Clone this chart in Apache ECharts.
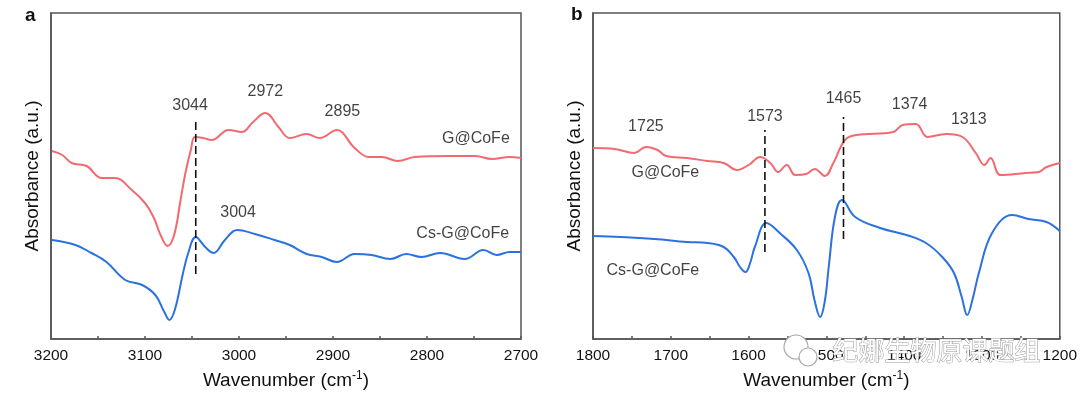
<!DOCTYPE html>
<html><head><meta charset="utf-8">
<script src="https://cdn.jsdelivr.net/npm/echarts@6/dist/echarts.min.js"></script>
<style>html,body{margin:0;padding:0;background:#fff}#c{width:1080px;height:397px}</style>
</head><body><div id="c"></div>
<script>
// ---- Panel a (3200-2700 cm-1) ----
const aWave = [3199,3188,3178,3162,3146,3132,3114,3100,3091,3083,3076,3069,3062,3057,3051,3047,3038,3029,3011,2997,2985,2972,2958,2946,2928,2914,2896,2877,2862,2848,2831,2813,2777,2749,2731,2712,2700];
const aRed  = [188,184,176,173,161,161,149,136,122,103,93,104,140,166,190,202,201,199,209,207,217,226,212,201,205,201,209,191,182,182,178,182,183,183,180,182,181];
const aBlueWave = [3199,3174,3157,3141,3121,3103,3089,3080,3074,3068,3060,3054,3046,3036,3027,3015,3002,2983,2962,2946,2928,2912,2896,2877,2859,2839,2822,2806,2786,2760,2740,2726,2712,2700];
const aBlue = [99,94,86,77,59,54,44,28,19,30,64,86,102,92,86,99,109,105,99,94,85,82,77,85,84,80,85,82,86,80,89,84,87,87];
const aDashX = [3046], aDashLow = [65], aDashHigh = [220];
const aLabelText = ['3044','2972','2895','3004','G@CoFe','Cs-G@CoFe'];
const aLabelX = [3052,2972,2890,3001,2748,2762];
const aLabelY = [233,247,227,126,200,105];

// ---- Panel b (1800-1200 cm-1) ----
const bRedWave = [1800,1772,1747,1732,1717,1706,1679,1653,1632,1615,1600,1585,1572,1562,1551,1540,1526,1515,1502,1491,1476,1461,1414,1402,1385,1370,1346,1325,1308,1297,1289,1276,1244,1227,1217,1200];
const bRed = [191,190,186,192,189,183,181,178,176,169,174,182,176,167,174,164,165,170,163,176,199,204,207,214,215,202,205,202,186,174,181,164,166,167,172,176];
const bBlueWave = [1800,1764,1721,1679,1653,1632,1619,1611,1604,1598,1592,1577,1560,1538,1523,1515,1508,1502,1497,1489,1480,1463,1431,1397,1372,1351,1336,1326,1319,1312,1304,1287,1261,1240,1217,1200];
const bBlue = [103,102,100,97,96,92,82,72,67,76,92,116,106,89,66,38,22,38,72,122,139,122,111,104,96,82,66,42,24,40,66,106,124,120,117,108];
const bDashX = [1579,1478], bDashLow = [87,100], bDashHigh = [209,222];
const bLabelText = ['1725','1573','1465','1374','1313','G@CoFe','Cs-G@CoFe'];
const bLabelX = [1732,1579,1478,1393,1317,1707,1723];
const bLabelY = [212,222,240,234,219,166,68];

const RED = '#F26A70', BLUE = '#2B72DE', AX = '#555', TXT = '#111';
const FONT = 'Liberation Sans';
const zip = (xs, ys) => xs.map((x, i) => [x, ys[i]]);

function xAxis(gi, min, max) {
  return {
    type: 'value', gridIndex: gi, min: min, max: max, interval: 50, inverse: true,
    name: 'Wavenumber (cm{sup|-1})', nameLocation: 'middle', nameGap: 31,
    nameTextStyle: { fontSize: 19, color: TXT, fontFamily: FONT,
      rich: { sup: { fontSize: 12, color: TXT, fontFamily: FONT, padding: [0, 0, 9, 0] } } },
    axisLine: { show: true, lineStyle: { color: AX, width: 1.5 } },
    axisTick: { show: true, inside: true, length: 3, lineStyle: { color: AX, width: 1.5 } },
    axisLabel: { margin: 9, fontSize: 15.5, color: TXT, fontFamily: FONT,
      formatter: v => (v % 100 === 0 ? String(v) : '') },
    splitLine: { show: false }
  };
}
function yAxis(gi) {
  return {
    type: 'value', gridIndex: gi, min: 0, max: 326,
    name: 'Absorbance (a.u.)', nameLocation: 'middle', nameGap: 9,
    nameTextStyle: { fontSize: 19, color: TXT, fontFamily: FONT },
    axisLine: { show: true, lineStyle: { color: AX, width: 1.5 } },
    axisTick: { show: false }, axisLabel: { show: false }, splitLine: { show: false }
  };
}
function curve(gi, data, color) {
  return { type: 'line', xAxisIndex: gi, yAxisIndex: gi, data: data, smooth: 0.4,
    showSymbol: false, symbol: 'none',
    lineStyle: { color: color, width: 2 }, z: 3 };
}
function dashes(gi, xs, lo, hi) {
  return xs.map((x, i) => ({ type: 'line', xAxisIndex: gi, yAxisIndex: gi,
    data: [[x, lo[i]], [x, hi[i]]], symbol: 'none',
    lineStyle: { color: '#111', width: 1.6, type: [8, 4] }, z: 4 }));
}
function labels(gi, texts, xs, ys) {
  return { type: 'scatter', xAxisIndex: gi, yAxisIndex: gi, symbolSize: 0, z: 5,
    data: texts.map((t, i) => ({ name: t, value: [xs[i], ys[i]] })),
    label: { show: true, position: 'inside', formatter: '{b}', fontSize: 16, color: TXT, fontFamily: FONT } };
}

const chart = echarts.init(document.getElementById('c'), null, { renderer: 'canvas' });
chart.setOption({
  animation: false,
  backgroundColor: '#fff',
  grid: [
    { left: 51, top: 13, width: 470, height: 326, show: true, borderColor: AX, borderWidth: 1.5, backgroundColor: 'transparent' },
    { left: 593, top: 13, width: 470, height: 326, show: true, borderColor: AX, borderWidth: 1.5, backgroundColor: 'transparent' }
  ],
  xAxis: [xAxis(0, 2700, 3200), xAxis(1, 1200, 1800)],
  yAxis: [yAxis(0), yAxis(1)],
  series: [
    curve(0, zip(aWave, aRed), RED),
    curve(0, zip(aBlueWave, aBlue), BLUE),
    ...dashes(0, aDashX, aDashLow, aDashHigh),
    labels(0, aLabelText, aLabelX, aLabelY),
    curve(1, zip(bRedWave, bRed), RED),
    curve(1, zip(bBlueWave, bBlue), BLUE),
    ...dashes(1, bDashX, bDashLow, bDashHigh),
    labels(1, bLabelText, bLabelX, bLabelY)
  ],
  graphic: [
    { type: 'text', left: 25, top: 6, style: { text: 'a', fontSize: 19, fontWeight: 'bold', fill: '#111', fontFamily: FONT } },
    { type: 'text', left: 571, top: 5, style: { text: 'b', fontSize: 19, fontWeight: 'bold', fill: '#111', fontFamily: FONT } },
    { type: 'circle', shape: { cx: 796, cy: 347, r: 12 }, style: { fill: '#fff', stroke: '#aaa', lineWidth: 1.2 }, z: 100 },
    { type: 'circle', shape: { cx: 808, cy: 357, r: 9 }, style: { fill: '#fff', stroke: '#aaa', lineWidth: 1.2 }, z: 101 },
    { type: 'text', left: 832, top: 337, z: 102,
      style: { text: '纪娜生物原课题组', fontSize: 26, fontFamily: 'Noto Sans CJK SC', fill: '#fff', stroke: '#999', lineWidth: 1 } }
  ]
});
</script></body></html>
